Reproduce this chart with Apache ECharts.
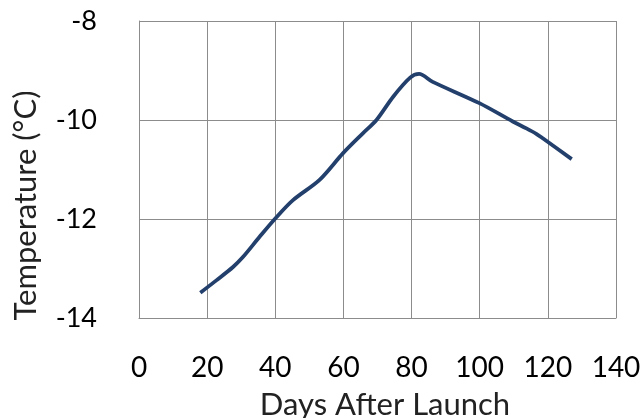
<!DOCTYPE html>
<html>
<head>
<meta charset="utf-8">
<script src="https://cdn.jsdelivr.net/npm/echarts@6/dist/echarts.min.js"></script>
<style>html,body{margin:0;padding:0;background:#fff}#c{width:644px;height:418px}</style>
</head>
<body>
<div id="c"></div>
<script>
var days  = [18, 22.7, 27.6, 30.5, 35.4, 40, 45.2, 53, 59.9, 65.7, 69.7, 74.6, 79.5, 82.2, 86.2, 99.9, 109.7, 113.7, 116.6, 118.5, 127];
var temps = [-13.49, -13.24, -12.97, -12.77, -12.36, -11.99, -11.62, -11.21, -10.67, -10.27, -10.0, -9.53, -9.15, -9.07, -9.23, -9.66, -10.03, -10.17, -10.28, -10.37, -10.79];
var xTicks = [0, 140, 20];
var yTicks = [-14, -8, 2];
var xTitle = 'Days After Launch';
var yTitle = 'Temperature (°C)';

var chart = echarts.init(document.getElementById('c'), null, {renderer: 'canvas'});
var font = 'Lato, "Open Sans", sans-serif';
chart.setOption({
  animation: false,
  grid: {left: 139, right: 28, top: 21, bottom: 100, containLabel: false, outerBoundsMode: 'none'},
  xAxis: {
    type: 'value', min: xTicks[0], max: xTicks[1], interval: xTicks[2],
    name: xTitle, nameLocation: 'middle', nameGap: 71,
    nameTextStyle: {fontFamily: font, fontSize: 31, color: '#222', padding: [0, 0, 0, 15]},
    axisLine: {show: true, lineStyle: {color: '#8c8c8c', width: 1}},
    axisTick: {show: false},
    axisLabel: {fontFamily: font, fontSize: 28, color: '#000', margin: 36},
    splitLine: {show: true, lineStyle: {color: '#8c8c8c', width: 1}}
  },
  yAxis: {
    type: 'value', min: yTicks[0], max: yTicks[1], interval: yTicks[2],
    name: yTitle, nameLocation: 'middle', nameGap: 98, nameRotate: 90,
    nameTextStyle: {fontFamily: font, fontSize: 31, color: '#222', padding: [0, 72, 0, 0]},
    axisLine: {show: true, lineStyle: {color: '#8c8c8c', width: 1}},
    axisTick: {show: false},
    axisLabel: {fontFamily: font, fontSize: 27, color: '#000', margin: 42, padding: [4, 0, 0, 0]},
    splitLine: {show: true, lineStyle: {color: '#8c8c8c', width: 1}}
  },
  series: [{
    type: 'line',
    data: days.map(function (d, i) { return [d, temps[i]]; }),
    showSymbol: false,
    smooth: 0.3,
    lineStyle: {color: '#233f6c', width: 3.8}
  }]
});
</script>
</body>
</html>
